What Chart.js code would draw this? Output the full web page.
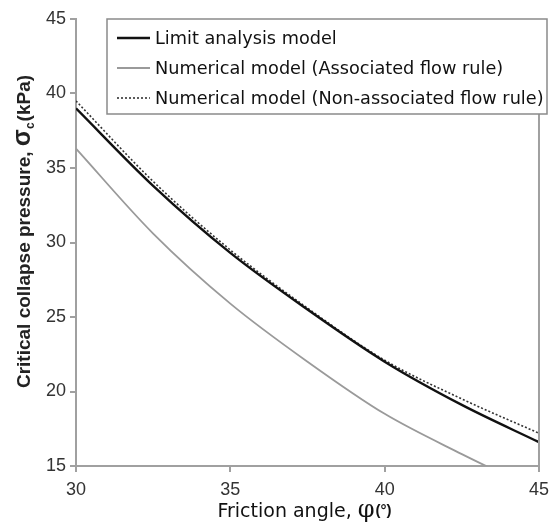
<!DOCTYPE html>
<html>
<head>
<meta charset="utf-8">
<script src="https://cdn.jsdelivr.net/npm/chart.js@4"></script>
<style>
  body { margin: 0; background: #fff; }
  #wrap { width: 556px; height: 523px; }
</style>
</head>
<body>
<div id="wrap"><canvas id="myChart" width="556" height="523"></canvas></div>
<script>
const frictionAngle = [30, 32.5, 35, 37.5, 40, 42.5, 45];
const limitAnalysis = [39.0, 33.8, 29.3, 25.5, 22.0, 19.1, 16.6];
const associated = [36.3, 30.6, 25.9, 22.0, 18.5, 15.8, 13.3];
const nonAssociated = [39.5, 34.1, 29.5, 25.6, 22.1, 19.5, 17.2];
const seriesNames = [
  'Limit analysis model',
  'Numerical model (Associated flow rule)',
  'Numerical model (Non-associated flow rule)'
];
const xTicks = [30, 35, 40, 45];
const yTicks = [15, 20, 25, 30, 35, 40, 45];

const toPoints = (ys) => ys.map((y, i) => ({ x: frictionAngle[i], y: y }));

// legend box, right frame line and axis titles
const extras = {
  id: 'extras',
  afterDraw(chart) {
    const c = chart.ctx;
    const a = chart.chartArea;
    c.save();
    c.strokeStyle = '#a0a0a0';
    c.lineWidth = 2;
    c.beginPath();
    c.moveTo(a.right, a.top);
    c.lineTo(a.right, a.bottom + 6);
    c.stroke();

    // legend
    c.fillStyle = '#fff';
    c.fillRect(107, 19, 440, 95);
    c.strokeStyle = '#8a8a8a';
    c.lineWidth = 1.5;
    c.strokeRect(107, 19, 440, 95);
    const rows = [38, 68, 98];
    chart.data.datasets.forEach((ds, i) => {
      c.strokeStyle = ds.borderColor;
      c.lineWidth = ds.borderWidth;
      c.setLineDash(ds.borderDash || []);
      c.beginPath();
      c.moveTo(117, rows[i]);
      c.lineTo(150, rows[i]);
      c.stroke();
      c.setLineDash([]);
      c.fillStyle = '#111';
      c.font = '17.7px "DejaVu Sans"';
      c.textBaseline = 'middle';
      c.fillText(ds.label, 155, rows[i] + 1);
    });

    // x title
    c.fillStyle = '#111';
    c.textBaseline = 'alphabetic';
    const xt1 = 'Friction angle, ';
    const xt2 = 'φ';
    const xt3 = '(°)';
    c.font = '19px "DejaVu Sans"';
    const w1 = c.measureText(xt1).width;
    c.font = '24px "DejaVu Serif"';
    const w2 = c.measureText(xt2).width;
    c.font = 'bold 15px "Liberation Sans"';
    const w3 = c.measureText(xt3).width;
    let x0 = 304 - (w1 + w2 + w3) / 2;
    c.font = '19px "DejaVu Sans"';
    c.fillText(xt1, x0, 517);
    c.font = '24px "DejaVu Serif"';
    c.fillText(xt2, x0 + w1, 517);
    c.font = 'bold 15px "Liberation Sans"';
    c.fillText(xt3, x0 + w1 + w2 + 1, 515);

    // y title
    c.translate(30, 232);
    c.rotate(-Math.PI / 2);
    const p1 = 'Critical collapse pressure, ';
    const p2 = 'σ';
    const p3 = 'c';
    const p4 = '(kPa)';
    const f = 'bold 19px "Liberation Sans"';
    c.font = f;
    const v1 = c.measureText(p1).width;
    c.font = 'bold 25px "Liberation Sans"';
    const v2 = c.measureText(p2).width;
    c.font = 'bold 12px "Liberation Sans"';
    const v3 = c.measureText(p3).width;
    c.font = f;
    const v4 = c.measureText(p4).width;
    let s = -(v1 + v2 + v3 + v4) / 2;
    c.fillStyle = '#222';
    c.font = f;
    c.fillText(p1, s, 0);
    c.font = 'bold 25px "Liberation Sans"';
    c.fillText(p2, s + v1, 0);
    c.font = 'bold 12px "Liberation Sans"';
    c.fillText(p3, s + v1 + v2, 4);
    c.font = f;
    c.fillText(p4, s + v1 + v2 + v3 + 1, 0);
    c.restore();
  }
};

new Chart(document.getElementById('myChart'), {
  type: 'scatter',
  data: {
    datasets: [
      {
        label: seriesNames[0],
        data: toPoints(limitAnalysis),
        showLine: true,
        borderColor: '#111',
        borderWidth: 2.4,
        pointRadius: 0,
        cubicInterpolationMode: 'monotone'
      },
      {
        label: seriesNames[1],
        data: toPoints(associated),
        showLine: true,
        borderColor: '#9a9a9a',
        borderWidth: 1.8,
        pointRadius: 0,
        cubicInterpolationMode: 'monotone'
      },
      {
        label: seriesNames[2],
        data: toPoints(nonAssociated),
        showLine: true,
        borderColor: '#333',
        borderWidth: 1.6,
        borderDash: [2, 2],
        pointRadius: 0,
        cubicInterpolationMode: 'monotone'
      }
    ]
  },
  options: {
    responsive: false,
    animation: false,
    layout: { padding: { top: 19, right: 10, left: 0, bottom: 0 } },
    plugins: { legend: { display: false }, tooltip: { enabled: false } },
    scales: {
      x: {
        type: 'linear',
        min: 30,
        max: 45,
        afterBuildTicks: (s) => { s.ticks = xTicks.map((v) => ({ value: v })); },
        afterFit: (s) => { s.height = 57; },
        grid: { drawOnChartArea: false, color: '#a0a0a0', tickLength: 6, lineWidth: 2 },
        border: { color: '#a0a0a0', width: 2 },
        ticks: { color: '#333', font: { family: 'Liberation Sans', size: 18 }, padding: 7, maxRotation: 0 }
      },
      y: {
        min: 15,
        max: 45,
        afterBuildTicks: (s) => { s.ticks = yTicks.map((v) => ({ value: v })); },
        afterFit: (s) => { s.width = 76; },
        grid: { drawOnChartArea: false, color: '#a0a0a0', tickLength: 6, lineWidth: 2 },
        border: { color: '#a0a0a0', width: 2 },
        ticks: { color: '#333', font: { family: 'Liberation Sans', size: 18 }, padding: 4 }
      }
    }
  },
  plugins: [extras]
});
</script>
</body>
</html>
